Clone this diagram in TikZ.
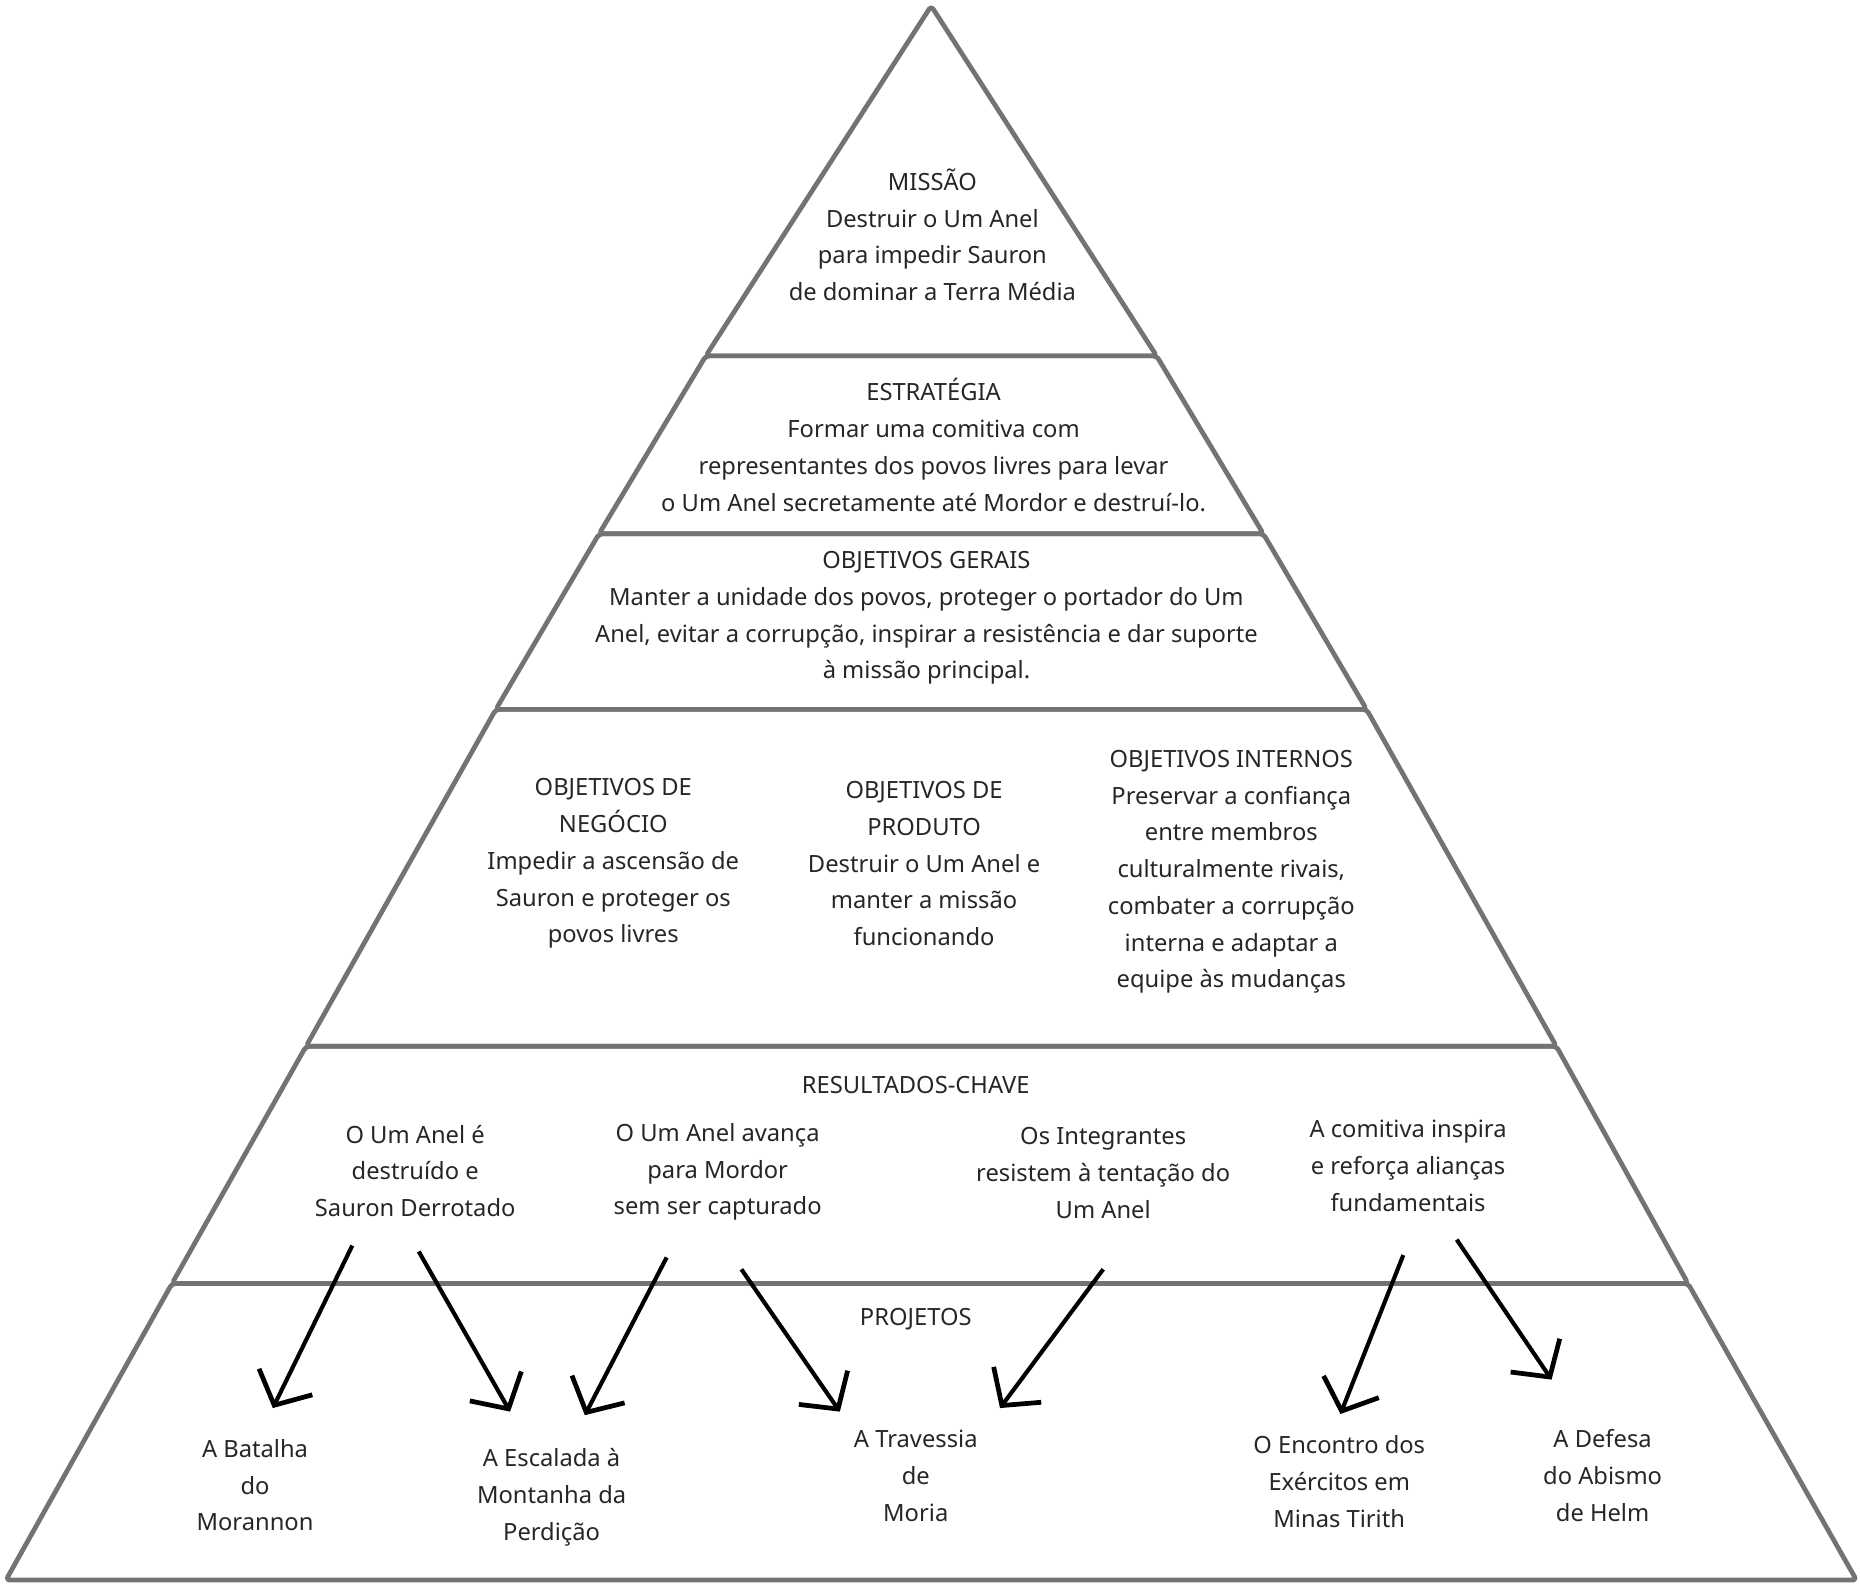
\documentclass[tikz,border=0pt]{standalone}
\usepackage{fontspec}
\setmainfont{Noto Sans}
\usetikzlibrary{positioning, arrows.meta}

\tikzset{
    band/.style={draw=black!55, line width=4pt, rounded corners=3pt, line join=round},
    txt/.style={align=center, font=\fontsize{20}{31}\selectfont, text=black!85},
    ttl/.style={font=\fontsize{20}{31}\selectfont\bfseries, text=black!85},
    hand/.style={-{Straight Barb[length=22pt, width=50pt, line width=4pt]}, line width=3.5pt},
}

\begin{document}
\begin{tikzpicture}[x=1pt, y=-1pt]
    \useasboundingbox (0,0) rectangle (1568,1336);
    
    % pyramid bands
    \draw[band] (785,5) -- (975,300) -- (595,300) -- cycle;
    \draw[band] (595,300) -- (975,300) -- (1065,450) -- (505,450) -- cycle;
    \draw[band] (505,450) -- (1065,450) -- (1152,598) -- (418,598) -- cycle;
    \draw[band] (418,598) -- (1152,598) -- (1312,882) -- (258,882) -- cycle;
    \draw[band] (258,882) -- (1312,882) -- (1423,1082) -- (145,1082) -- cycle;
    \draw[band] (145,1082) -- (1423,1082) -- (1565,1332) -- (5,1332) -- cycle;
    
    \node[txt] (missao) at (786,198) {\textbf{MISSÃO}\\Destruir o Um Anel\\para impedir Sauron\\de dominar a Terra Média};
    \node[txt] (estrategia) at (787,375) {\textbf{ESTRATÉGIA}\\Formar uma comitiva com\\representantes dos povos livres para levar\\o Um Anel secretamente até Mordor e destruí-lo.};
    \node[txt] (gerais) at (781,521) {\textbf{OBJETIVOS GERAIS}\\Manter a unidade dos povos, proteger o portador do Um\\Anel, evitar a corrupção, inspirar a resistência e dar suporte\\à missão principal.};
    
    \node[txt] (negocio) at (517,728) {\textbf{OBJETIVOS DE}\\\textbf{NEGÓCIO}\\Impedir a ascensão de\\Sauron e proteger os\\povos livres};
    \node[txt] (produto) at (779,728) {\textbf{OBJETIVOS DE}\\\textbf{PRODUTO}\\Destruir o Um Anel e\\manter a missão\\funcionando};
    \node[txt] (internos) at (1038,735) {\textbf{OBJETIVOS INTERNOS}\\Preservar a confiança\\entre membros\\culturalmente rivais,\\combater a corrupção\\interna e adaptar a\\equipe às mudanças};
    
    \node[ttl] (resultados) at (772,915) {RESULTADOS-CHAVE};
    \node[txt] (kr1) at (350,987) {O Um Anel é\\destruído e\\Sauron Derrotado};
    \node[txt] (kr2) at (605,988) {O Um Anel avança\\para Mordor\\sem ser capturado};
    \node[txt] (kr3) at (930,989) {Os Integrantes\\resistem à tentação do\\Um Anel};
    \node[txt] (kr4) at (1187,983) {A comitiva inspira\\e reforça alianças\\fundamentais};
    
    \node[ttl] (projetos) at (772,1112) {PROJETOS};
    \node[txt] (batalha) at (215,1252) {A Batalha\\do\\Morannon};
    \node[txt] (escalada) at (465,1262) {A Escalada à\\Montanha da\\Perdição};
    \node[txt] (moria) at (772,1244) {A Travessia\\de\\Moria};
    \node[txt] (encontro) at (1129,1249) {O Encontro dos\\Exércitos em\\Minas Tirith};
    \node[txt] (helm) at (1351,1244) {A Defesa\\do Abismo\\de Helm};
    
    % arrow ends
    \coordinate (a1) at (297,1050); \coordinate (b1) at (230,1187);
    \coordinate (a2) at (353,1055); \coordinate (b2) at (430,1190);
    \coordinate (a3) at (562,1060); \coordinate (b3) at (493,1193);
    \coordinate (a4) at (625,1070); \coordinate (b4) at (708,1190);
    \coordinate (a5) at (930,1070); \coordinate (b5) at (843,1187);
    \coordinate (a6) at (1183,1058); \coordinate (b6) at (1130,1192);
    \coordinate (a7) at (1228,1045); \coordinate (b7) at (1308,1163);
    
    \foreach \i in {1,...,7} {
        \draw[hand] (a\i) -- (b\i);
    }
\end{tikzpicture}
\end{document}
